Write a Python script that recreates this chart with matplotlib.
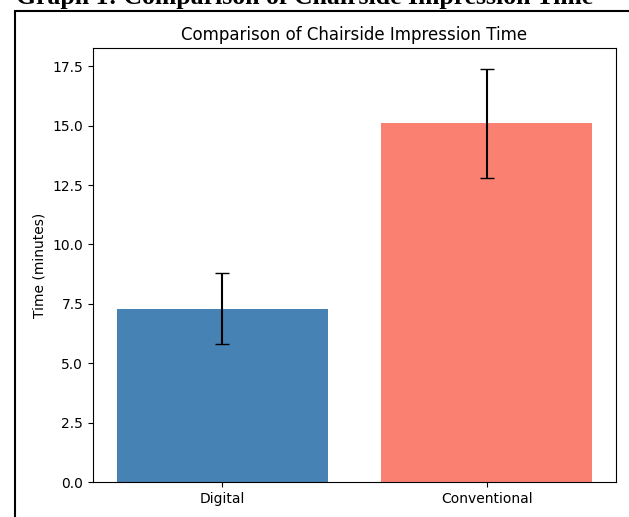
import matplotlib
matplotlib.use("Agg")
import matplotlib.pyplot as plt
from matplotlib.patches import Rectangle

methods = ["Digital", "Conventional"]
mean_time = [7.3, 15.1]
sd_time = [1.5, 2.3]
bar_colors = ["steelblue", "salmon"]

W, H = 629, 517
fig = plt.figure(figsize=(W / 100, H / 100), dpi=100)

# document heading, cut off at the top of the screenshot
fig.text(16 / W, 1 - 4 / H, "Graph 1: Comparison of Chairside Impression Time",
         fontfamily="Liberation Serif", fontweight="bold", fontsize=18.5,
         va="baseline", ha="left")

# border around the embedded chart
fig.patches.append(Rectangle((15 / W, -0.2), 1.2, 1 - 10.5 / H + 0.2,
                             transform=fig.transFigure, fill=False,
                             edgecolor="black", linewidth=1.5))

ax = fig.add_axes([93 / W, (H - 482) / H, (616 - 93) / W, (482 - 48) / H])
ax.bar(methods, mean_time, yerr=sd_time, color=bar_colors, capsize=5)
ax.set_ylabel("Time (minutes)")
ax.set_title("Comparison of Chairside Impression Time")

fig.savefig("out.png", dpi=100)
